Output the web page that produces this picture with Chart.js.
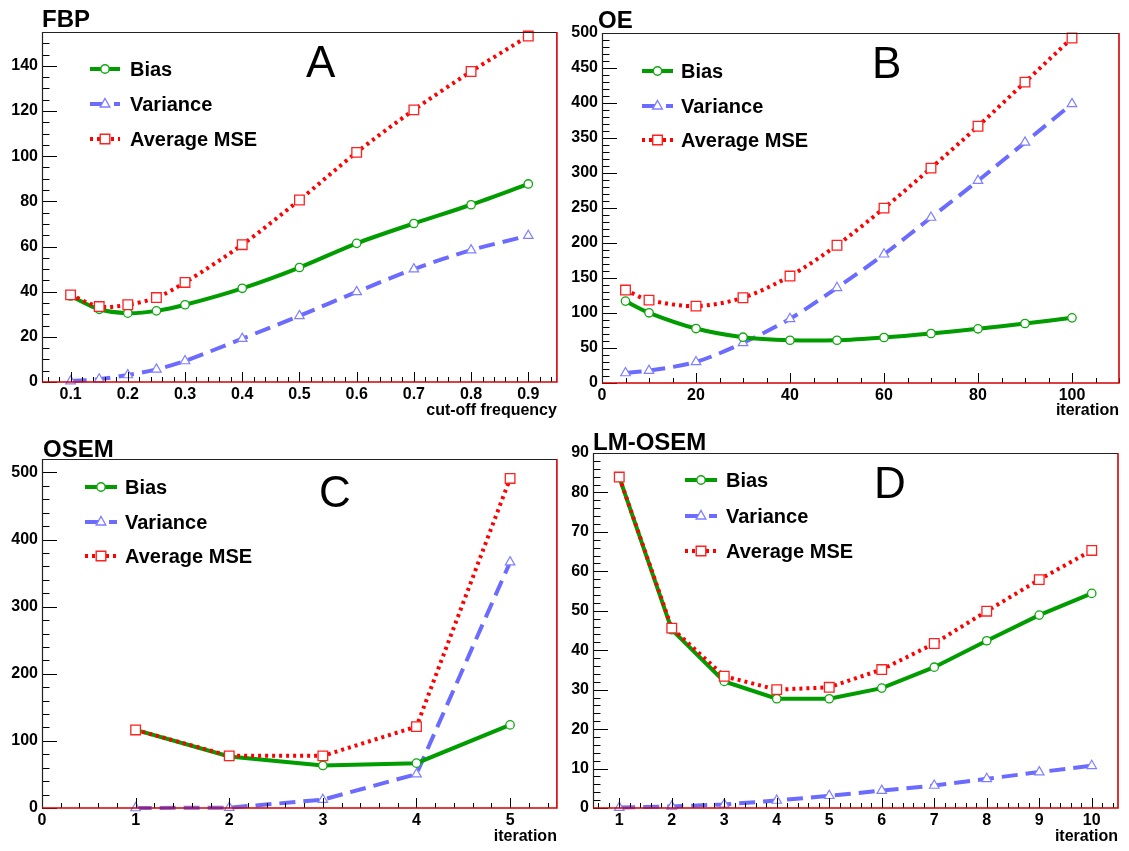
<!DOCTYPE html>
<html>
<head>
<meta charset="utf-8">
<title>Bias / Variance / MSE</title>
<script src="https://cdn.jsdelivr.net/npm/chart.js@4.4.0/dist/chart.umd.min.js"></script>
<style>
  body { margin: 0; background: #fff; }
  #wrap { position: relative; width: 1129px; height: 851px; }
  canvas { position: absolute; }
</style>
</head>
<body>
<div id="wrap">
  <canvas id="chartA" width="565" height="425" style="left:0;top:0"></canvas>
  <canvas id="chartB" width="564" height="425" style="left:565px;top:0"></canvas>
  <canvas id="chartC" width="565" height="426" style="left:0;top:425px"></canvas>
  <canvas id="chartD" width="564" height="426" style="left:565px;top:425px"></canvas>
</div>
<script>
const FONT = '"Liberation Sans", Arial, Helvetica, sans-serif';

// A - FBP
const fbpCutoff   = [0.1, 0.15, 0.2, 0.25, 0.3, 0.4, 0.5, 0.6, 0.7, 0.8, 0.9];
const fbpBias     = [38.1, 32.2, 30.5, 31.5, 34.2, 41.5, 50.7, 61.4, 70.2, 78.5, 87.7];
const fbpVariance = [0.4, 1.2, 3.1, 5.6, 9.3, 19.2, 29.3, 39.9, 50.0, 58.4, 64.8];
const fbpMse      = [38.6, 33.4, 34.2, 37.4, 44.1, 60.8, 80.6, 101.7, 120.5, 137.5, 153.2];
const fbpXTicks   = [0.1, 0.2, 0.3, 0.4, 0.5, 0.6, 0.7, 0.8, 0.9];
const fbpYTicks   = [0, 20, 40, 60, 80, 100, 120, 140];

// B - OE
const oeIter     = [5, 10, 20, 30, 40, 50, 60, 70, 80, 90, 100];
const oeBias     = [117, 100.3, 77.8, 65.4, 61.1, 61.1, 65, 70.7, 77.4, 85, 93.1];
const oeVariance = [14.3, 17.7, 30.1, 57.3, 91.7, 136, 183.9, 236.4, 289, 343.8, 398.8];
const oeMse      = [132.8, 118.4, 109.8, 121.8, 152.8, 196.8, 249.8, 307, 366.8, 429.8, 492.8];
const oeXTicks   = [0, 20, 40, 60, 80, 100];
const oeYTicks   = [0, 50, 100, 150, 200, 250, 300, 350, 400, 450, 500];

// C - OSEM
const osemIter     = [1, 2, 3, 4, 5];
const osemBias     = [116.3, 76.7, 63.4, 66.8, 123.8];
const osemVariance = [0, 0.5, 12.4, 50.5, 366.3];
const osemMse      = [116.3, 77.7, 77.7, 121.3, 491];
const osemXTicks   = [0, 1, 2, 3, 4, 5];
const osemYTicks   = [0, 100, 200, 300, 400, 500];

// D - LM-OSEM
const lmIter     = [1, 2, 3, 4, 5, 6, 7, 8, 9, 10];
const lmBias     = [83.9, 45.2, 32.1, 27.7, 27.7, 30.4, 35.7, 42.4, 48.9, 54.4];
const lmVariance = [0.1, 0.4, 0.9, 1.9, 3.1, 4.4, 5.7, 7.4, 9.1, 10.7];
const lmMse      = [83.9, 45.6, 33.4, 30.0, 30.6, 35.1, 41.7, 49.9, 57.9, 65.3];
const lmXTicks   = [1, 2, 3, 4, 5, 6, 7, 8, 9, 10];
const lmYTicks   = [0, 10, 20, 30, 40, 50, 60, 70, 80, 90];

const seriesLabels = ['Bias', 'Variance', 'Average MSE'];

const GREEN = '#009c00';
const BLUE = '#6b6bff';
const RED = '#ff0000';

function points(xs, ys) {
    return xs.map((x, i) => ({ x: x, y: ys[i] }));
}

function eachStep(min, max, step, fn) {
    const first = Math.ceil(min / step - 1e-6);
    const last = Math.floor(max / step + 1e-6);
    for (let n = first; n <= last; n++) fn(n * step);
}

function drawMarker(ctx, style, x, y, color) {
    ctx.save();
    ctx.setLineDash([]);
    ctx.strokeStyle = color;
    ctx.fillStyle = '#fff';
    ctx.lineWidth = 1.4;
    ctx.beginPath();
    if (style === 'circle') {
        ctx.arc(x, y, 4.2, 0, Math.PI * 2);
    } else if (style === 'triangle') {
        ctx.moveTo(x, y - 5.5);
        ctx.lineTo(x + 4.8, y + 3);
        ctx.lineTo(x - 4.8, y + 3);
        ctx.closePath();
    } else {
        ctx.rect(x - 4.8, y - 4.8, 9.6, 9.6);
    }
    ctx.fill();
    ctx.stroke();
    ctx.restore();
}

// frame, inside ticks, title, big letter and legend in ROOT style
function framePlugin(p) {
    return {
        id: 'rootFrame',
        afterDatasetsDraw(chart) {
            const ctx = chart.ctx;
            const a = chart.chartArea;
            const xs = chart.scales.x, ys = chart.scales.y;
            ctx.save();
            ctx.strokeStyle = '#000';
            ctx.lineWidth = 1;
            ctx.beginPath();
            eachStep(ys.min, ys.max, p.yMinor, v => {
                const py = Math.round(ys.getPixelForValue(v)) + 0.5;
                ctx.moveTo(a.left, py); ctx.lineTo(a.left + 7.5, py);
            });
            p.yTicks.forEach(v => {
                const py = Math.round(ys.getPixelForValue(v)) + 0.5;
                ctx.moveTo(a.left, py); ctx.lineTo(a.left + 15, py);
            });
            eachStep(xs.min, xs.max, p.xMinor, v => {
                const px = Math.round(xs.getPixelForValue(v)) + 0.5;
                ctx.moveTo(px, a.bottom); ctx.lineTo(px, a.bottom - 5);
            });
            p.xTicks.forEach(v => {
                const px = Math.round(xs.getPixelForValue(v)) + 0.5;
                ctx.moveTo(px, a.bottom); ctx.lineTo(px, a.bottom - 10);
            });
            ctx.stroke();

            ctx.beginPath();
            ctx.moveTo(a.left + 0.5, a.bottom);
            ctx.lineTo(a.left + 0.5, a.top + 0.5);
            ctx.lineTo(a.right, a.top + 0.5);
            ctx.strokeStyle = '#222';
            ctx.lineWidth = 1.2;
            ctx.stroke();

            ctx.beginPath();
            ctx.moveTo(a.left, a.bottom);
            ctx.lineTo(a.right, a.bottom);
            ctx.lineTo(a.right, a.top);
            ctx.strokeStyle = '#d40000';
            ctx.lineWidth = 1.6;
            ctx.stroke();
            ctx.restore();
        },
        afterDraw(chart) {
            const ctx = chart.ctx;
            ctx.save();
            ctx.fillStyle = '#000';
            ctx.textAlign = 'left';
            ctx.textBaseline = 'alphabetic';
            ctx.font = 'bold 24px ' + FONT;
            ctx.fillText(p.title, p.titleX, p.titleY);
            ctx.font = '44px ' + FONT;
            ctx.fillText(p.letter, p.letterX, p.letterY);

            // legend
            const lg = p.legend;
            ctx.font = 'bold 20px ' + FONT;
            ctx.textBaseline = 'middle';
            seriesLabels.forEach((label, i) => {
                const ds = chart.data.datasets.find(d => d.label === label);
                const y = lg.rows[i];
                ctx.save();
                ctx.strokeStyle = ds.borderColor;
                ctx.lineWidth = ds.borderWidth;
                ctx.setLineDash(ds.borderDash || []);
                ctx.beginPath();
                ctx.moveTo(lg.x1, y);
                ctx.lineTo(lg.x2, y);
                ctx.stroke();
                ctx.restore();
                drawMarker(ctx, ds.pointStyle, (lg.x1 + lg.x2) / 2, y, ds.pointBorderColor);
                ctx.fillText(label, lg.tx, y + 1);
            });
            ctx.restore();
        }
    };
}

function makePanel(canvasId, p) {
    const datasets = [
        {
            label: 'Bias',
            data: points(p.xs, p.bias),
            borderColor: GREEN,
            borderWidth: 4,
            pointStyle: 'circle',
            pointRadius: 4.2,
            pointBorderColor: '#10a810',
            pointBackgroundColor: '#fff',
            pointBorderWidth: 1.3,
            tension: p.tension,
            order: 1
        },
        {
            label: 'Variance',
            data: points(p.xs, p.variance),
            borderColor: BLUE,
            borderWidth: 4,
            borderDash: [16, 8],
            pointStyle: 'triangle',
            pointRadius: 5.5,
            pointBorderColor: '#8080ff',
            pointBackgroundColor: '#fff',
            pointBorderWidth: 1.2,
            tension: p.tension,
            order: 2
        },
        {
            label: 'Average MSE',
            data: points(p.xs, p.mse),
            borderColor: RED,
            borderWidth: 4,
            borderDash: [3, 4],
            pointStyle: 'rect',
            pointRadius: 6.8,
            pointBorderColor: '#ff2020',
            pointBackgroundColor: '#fff',
            pointBorderWidth: 1.3,
            tension: p.tension,
            order: 0
        }
    ];

    const tickFont = { family: FONT, size: 16, weight: 'bold' };

    return new Chart(document.getElementById(canvasId), {
        type: 'line',
        data: { datasets: datasets },
        options: {
            responsive: false,
            animation: false,
            layout: { padding: { top: p.padTop, right: p.padRight, left: 0, bottom: 0 } },
            plugins: {
                legend: { display: false },
                tooltip: { enabled: false }
            },
            elements: { line: { borderCapStyle: 'butt' } },
            datasets: { line: { clip: false } },
            scales: {
                x: {
                    type: 'linear',
                    min: p.xMin,
                    max: p.xMax,
                    afterBuildTicks: scale => { scale.ticks = p.xTicks.map(v => ({ value: v })); },
                    afterFit: scale => { scale.height = p.xAxisHeight; },
                    grid: { display: false, drawTicks: false },
                    border: { display: false },
                    ticks: {
                        font: tickFont,
                        color: '#000',
                        padding: 3,
                        autoSkip: false,
                        maxRotation: 0,
                        callback: v => String(v)
                    },
                    title: {
                        display: true,
                        text: p.xLabel,
                        align: 'end',
                        color: '#000',
                        font: { family: FONT, size: 16, weight: 'bold' },
                        padding: { top: 0, bottom: 5 }
                    }
                },
                y: {
                    type: 'linear',
                    min: p.yMin,
                    max: p.yMax,
                    afterBuildTicks: scale => { scale.ticks = p.yTicks.map(v => ({ value: v })); },
                    afterFit: scale => { scale.width = p.yAxisWidth; },
                    grid: { display: false, drawTicks: false },
                    border: { display: false },
                    ticks: {
                        font: tickFont,
                        color: '#000',
                        padding: 4,
                        autoSkip: false,
                        callback: v => String(v)
                    }
                }
            }
        },
        plugins: [framePlugin(p)]
    });
}

makePanel('chartA', {
    xs: fbpCutoff, bias: fbpBias, variance: fbpVariance, mse: fbpMse,
    xTicks: fbpXTicks, yTicks: fbpYTicks, xMinor: 0.02, yMinor: 5,
    xMin: 0.05, xMax: 0.95, yMin: 0, yMax: 155,
    xLabel: 'cut-off frequency', tension: 0.3,
    yAxisWidth: 42, xAxisHeight: 43, padTop: 32, padRight: 6,
    title: 'FBP', titleX: 42, titleY: 27,
    letter: 'A', letterX: 306, letterY: 77,
    legend: { x1: 90, x2: 120, tx: 130, rows: [69, 104, 139] }
});

makePanel('chartB', {
    xs: oeIter, bias: oeBias, variance: oeVariance, mse: oeMse,
    xTicks: oeXTicks, yTicks: oeYTicks, xMinor: 5, yMinor: 10,
    xMin: 0, xMax: 110, yMin: 0, yMax: 500,
    xLabel: 'iteration', tension: 0.3,
    yAxisWidth: 37, xAxisHeight: 42, padTop: 33, padRight: 10,
    title: 'OE', titleX: 33, titleY: 28,
    letter: 'B', letterX: 307, letterY: 78,
    legend: { x1: 77, x2: 108, tx: 116, rows: [71, 106, 140] }
});

makePanel('chartC', {
    xs: osemIter, bias: osemBias, variance: osemVariance, mse: osemMse,
    xTicks: osemXTicks, yTicks: osemYTicks, xMinor: 0.2, yMinor: 20,
    xMin: 0, xMax: 5.5, yMin: 0, yMax: 520,
    xLabel: 'iteration', tension: 0,
    yAxisWidth: 42, xAxisHeight: 43, padTop: 34, padRight: 6,
    title: 'OSEM', titleX: 43, titleY: 32,
    letter: 'C', letterX: 319, letterY: 82,
    legend: { x1: 85, x2: 117, tx: 125, rows: [62, 97, 131] }
});

makePanel('chartD', {
    xs: lmIter, bias: lmBias, variance: lmVariance, mse: lmMse,
    xTicks: lmXTicks, yTicks: lmYTicks, xMinor: 0.2, yMinor: 2,
    xMin: 0.5, xMax: 10.5, yMin: 0, yMax: 90,
    xLabel: 'iteration', tension: 0,
    yAxisWidth: 28, xAxisHeight: 43, padTop: 28, padRight: 11,
    title: 'LM-OSEM', titleX: 28, titleY: 25,
    letter: 'D', letterX: 309, letterY: 73,
    legend: { x1: 120, x2: 152, tx: 161, rows: [55, 91, 126] }
});
</script>
</body>
</html>
